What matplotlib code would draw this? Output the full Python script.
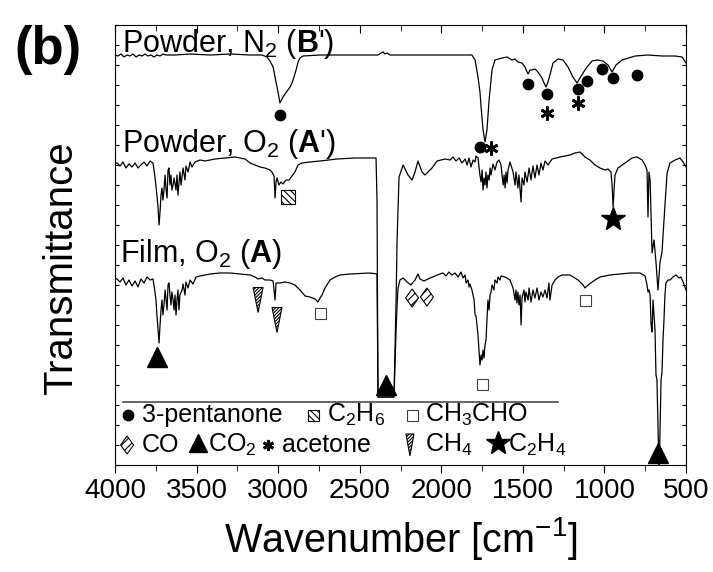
import numpy as np
import matplotlib
matplotlib.use("Agg")
import matplotlib.pyplot as plt
from matplotlib.patches import Rectangle, Polygon
from matplotlib.ticker import MultipleLocator

plt.rcParams['font.family'] = ['Liberation Sans', 'DejaVu Sans']
plt.rcParams['mathtext.fontset'] = 'custom'
plt.rcParams['mathtext.rm'] = 'Liberation Sans'
plt.rcParams['mathtext.bf'] = 'Liberation Sans:bold'
plt.rcParams['mathtext.it'] = 'Liberation Sans:italic'
plt.rcParams['hatch.linewidth'] = 0.8

# spectra (wavenumber, transmittance a.u.)
bprime_wn = [4000, 3982, 3963, 3945, 3926, 3908, 3890, 3871, 3853, 3834, 3816, 3798, 3779, 3761,
             3743, 3724, 3706, 3687, 3632, 3540, 3418, 3295, 3172, 3099, 3068, 3050, 3031, 3019,
             3007, 2995, 2989, 2983, 2970, 2958, 2940, 2927, 2915, 2903, 2890, 2878, 2866, 2848,
             2743, 2560, 2388, 2369, 2357, 2345, 2333, 2314, 2130, 1946, 1812, 1793, 1775, 1763,
             1756, 1744, 1732, 1720, 1707, 1689, 1671, 1628, 1597, 1567, 1548, 1530, 1505, 1487,
             1474, 1468, 1456, 1444, 1426, 1413, 1395, 1383, 1370, 1358, 1346, 1334, 1315, 1284,
             1254, 1223, 1193, 1168, 1150, 1131, 1107, 1076, 1045, 1009, 978, 953, 929, 892, 812,
             733, 647, 567, 524, 500]
bprime_t = [410, 409, 411, 408, 410, 409, 411, 408, 410, 409, 411, 409, 410, 408,
            410, 409, 411, 410, 410, 411, 410, 411, 410, 410, 408, 404, 398, 388,
            378, 368, 362, 364, 368, 371, 375, 378, 382, 388, 395, 403, 407, 409,
            410, 410, 410, 412, 413, 411, 412, 410, 410, 410, 410, 405, 388, 373,
            358, 335, 323, 335, 365, 395, 405, 407, 408, 405, 406, 403, 402, 398,
            393, 391, 395, 395, 396, 394, 390, 387, 382, 378, 383, 390, 402, 406,
            405, 398, 388, 382, 387, 392, 398, 404, 405, 404, 400, 393, 400, 405, 409,
            410, 409, 409, 408, 402]

aprime_wn = [4000, 3988, 3969, 3951, 3933, 3914, 3896, 3877, 3859, 3841, 3822, 3804, 3785, 3767,
             3755, 3743, 3736, 3730, 3724, 3718, 3712, 3706, 3700, 3693, 3687, 3681, 3675, 3669,
             3663, 3657, 3651, 3644, 3638, 3626, 3620, 3614, 3602, 3595, 3583, 3571, 3565, 3552,
             3540, 3528, 3510, 3479, 3448, 3387, 3326, 3264, 3203, 3172, 3142, 3111, 3081, 3050,
             3038, 3025, 3019, 3013, 3007, 2995, 2983, 2970, 2952, 2933, 2915, 2897, 2878, 2854,
             2805, 2743, 2639, 2529, 2400, 2394, 2388, 2290, 2277, 2271, 2259, 2234, 2204, 2179,
             2161, 2143, 2118, 2100, 2057, 2026, 1977, 1946, 1928, 1910, 1891, 1873, 1854, 1842,
             1830, 1818, 1805, 1793, 1787, 1775, 1763, 1756, 1750, 1744, 1738, 1732, 1726, 1720,
             1714, 1707, 1701, 1695, 1683, 1671, 1658, 1646, 1634, 1621, 1615, 1609, 1603, 1597,
             1591, 1579, 1560, 1548, 1542, 1530, 1524, 1511, 1505, 1493, 1487, 1474, 1462, 1450,
             1438, 1426, 1413, 1401, 1389, 1377, 1364, 1346, 1321, 1272, 1211, 1180, 1150, 1119,
             1089, 1058, 1027, 997, 978, 960, 953, 947, 941, 935, 917, 874, 831, 800, 769, 751,
             739, 733, 727, 720, 708, 696, 684, 672, 659, 647, 635, 629, 616, 598, 567, 537, 518,
             500]
aprime_t = [302, 302, 299, 303, 297, 301, 298, 302, 297, 300, 303, 299, 304, 302,
            288, 270, 257, 240, 253, 270, 277, 265, 275, 290, 275, 267, 295, 297,
            280, 290, 275, 280, 287, 275, 290, 270, 293, 280, 297, 285, 299, 293,
            303, 298, 303, 305, 304, 306, 307, 308, 306, 302, 300, 298, 297, 295,
            293, 289, 267, 283, 287, 280, 283, 281, 285, 285, 289, 293, 300, 302,
            303, 304, 306, 307, 307, 265, 68, 68, 165, 225, 288, 300, 290, 285,
            293, 304, 293, 290, 297, 304, 306, 305, 308, 304, 307, 302, 306, 300,
            307, 298, 305, 303, 309, 307, 290, 283, 295, 275, 287, 280, 293, 277,
            290, 285, 297, 290, 301, 295, 303, 305, 300, 280, 290, 277, 293, 282,
            295, 303, 293, 280, 293, 277, 290, 263, 287, 280, 293, 283, 297, 285,
            299, 287, 300, 290, 302, 295, 304, 300, 306, 308, 310, 312, 313, 308,
            305, 300, 297, 295, 296, 293, 280, 258, 275, 290, 297, 302, 307, 308, 305, 300,
            295, 248, 293, 285, 212, 225, 203, 175, 203, 213, 245, 260, 292, 302, 305, 307, 303,
            298]

film_wn = [4000, 3988, 3969, 3951, 3933, 3914, 3896, 3877, 3859, 3841, 3822, 3804, 3785, 3767,
           3755, 3749, 3743, 3736, 3730, 3724, 3718, 3712, 3706, 3700, 3693, 3687, 3681, 3675,
           3669, 3663, 3657, 3651, 3644, 3638, 3632, 3626, 3620, 3614, 3608, 3602, 3589, 3583,
           3571, 3565, 3552, 3540, 3522, 3503, 3479, 3448, 3418, 3356, 3295, 3234, 3172, 3142,
           3123, 3099, 3081, 3050, 3031, 3019, 3013, 2989, 2958, 2927, 2897, 2866, 2835, 2805,
           2774, 2756, 2743, 2731, 2713, 2682, 2651, 2621, 2560, 2437, 2394, 2388, 2290, 2277,
           2271, 2265, 2253, 2234, 2210, 2186, 2161, 2143, 2130, 2106, 2069, 2038, 2008, 1989,
           1971, 1953, 1934, 1916, 1897, 1879, 1867, 1854, 1848, 1836, 1830, 1824, 1812, 1799,
           1793, 1787, 1775, 1769, 1763, 1756, 1750, 1744, 1738, 1732, 1726, 1720, 1714, 1707,
           1701, 1695, 1689, 1677, 1671, 1658, 1652, 1640, 1634, 1609, 1579, 1560, 1548, 1542,
           1536, 1530, 1524, 1517, 1511, 1505, 1493, 1487, 1481, 1468, 1462, 1450, 1438, 1426,
           1413, 1401, 1389, 1377, 1364, 1352, 1340, 1334, 1321, 1303, 1284, 1260, 1211, 1162,
           1131, 1119, 1101, 1058, 1027, 966, 904, 843, 782, 751, 739, 733, 727, 720, 714, 708,
           702, 690, 684, 678, 665, 653, 647, 641, 635, 629, 623, 610, 598, 580, 561, 543, 531,
           518, 500]
film_t = [187, 186, 183, 187, 180, 185, 179, 184, 178, 186, 182, 188, 185, 186,
          173, 165, 150, 135, 122, 140, 155, 165, 150, 160, 175, 165, 155, 180,
          182, 170, 160, 173, 165, 155, 170, 150, 165, 175, 155, 170, 175, 181,
          170, 183, 177, 185, 181, 188, 189, 190, 191, 192, 192, 191, 190, 188,
          186, 187, 185, 185, 184, 165, 182, 182, 183, 182, 180, 175, 169, 168,
          166, 163, 167, 170, 177, 185, 188, 190, 191, 192, 191, 68, 68, 135,
          160, 177, 185, 187, 183, 180, 185, 191, 186, 184, 187, 189, 191, 192,
          189, 193, 190, 192, 188, 193, 187, 190, 182, 185, 178, 181, 175, 165,
          150, 149, 130, 115, 100, 110, 105, 115, 107, 120, 125, 145, 165, 155,
          170, 173, 180, 175, 185, 182, 188, 185, 189, 188, 185, 177, 165, 175,
          162, 173, 160, 170, 140, 167, 175, 163, 173, 165, 177, 163, 175, 167,
          177, 165, 173, 168, 175, 167, 182, 165, 180, 185, 188, 190, 190, 185,
          180, 177, 180, 185, 188, 190, 191, 192, 192, 189, 180, 173, 175, 170, 140, 133,
          165, 135, 90, 85, -10, 85, 93, 125, 145, 170, 182, 185, 185, 188, 190, 187, 188,
          183, 175]

# band assignments (wavenumber, height)
pentanone_wn = [2989, 1763, 1468, 1352, 1162, 1107, 1015, 947, 800]
pentanone_y = [350, 318, 381, 371, 376, 384, 396, 387, 390]
acetone_wn = [1695, 1352, 1162]
acetone_y = [317, 352, 362]
co2_wn = [3743, 2339, 672]
co2_y = [108, 80, 12]
ch4_wn = [3123, 3007]
ch4_y = [165, 145]
ch3cho_wn = [2743, 1750, 1113]
ch3cho_y = [152, 81, 165]
co_wn = [2179, 2088]
co_y = [167, 168]
c2h6_wn = [2940]
c2h6_y = [268]
c2h4_wn = [947]
c2h4_y = [246]

PX = 3500 / 571.0  # wavenumber per pixel

fig = plt.figure(figsize=(7.13, 5.72), dpi=100)
ax = fig.add_axes([115 / 713, 107 / 572, 571 / 713, 440 / 572])

for wn, t in [(bprime_wn, bprime_t), (aprime_wn, aprime_t), (film_wn, film_t)]:
    ax.plot(wn, t, color='black', lw=0.9)


def hatch_rect(x, y, w, h, hatch, ec='black'):
    ax.add_patch(Rectangle((x - w * PX / 2, y - h / 2), w * PX, h, fc='white', ec=ec,
                           hatch=hatch, lw=0.8, zorder=4))


def hatch_poly(x, y, pts, hatch):
    ax.add_patch(Polygon([(x + dx * PX, y + dy) for dx, dy in pts], closed=True, fc='white',
                         ec='black', hatch=hatch, lw=0.8, zorder=4))


def down_tri(w, h):
    return [(-w / 2, h / 2), (w / 2, h / 2), (0, -h / 2)]


def diamond(w, h):
    return [(0, h / 2), (w / 2, 0), (0, -h / 2), (-w / 2, 0)]


ax.plot(pentanone_wn, pentanone_y, 'o', color='black', ms=7.5, zorder=5)
ax.plot(acetone_wn, acetone_y, marker=(6, 2, 0), ls='none', color='black', ms=10, mew=2, zorder=5)
ax.plot(co2_wn, co2_y, '^', color='black', ms=14, zorder=5)
ax.plot(c2h4_wn, c2h4_y, '*', color='black', ms=18, zorder=5)
for x, y in zip(ch3cho_wn, ch3cho_y):
    hatch_rect(x, y, 11, 11, None, ec='0.25')
for x, y in zip(c2h6_wn, c2h6_y):
    hatch_rect(x, y, 14, 14, '\\\\\\\\\\')
for x, y in zip(ch4_wn, ch4_y):
    hatch_poly(x, y, down_tri(10, 25), '//////////')
for x, y in zip(co_wn, co_y):
    hatch_poly(x, y, diamond(13, 18), '////')

# curve labels
ax.text(3957, 413, "Powder, N$_2$ ($\\mathbf{B}$')", fontsize=22, va='baseline')
ax.text(3957, 313, "Powder, O$_2$ ($\\mathbf{A}$')", fontsize=22, va='baseline')
ax.text(3969, 203, "Film, O$_2$ ($\\mathbf{A}$)", fontsize=22, va='baseline')

# legend
ax.axhline(63, xmin=8 / 571, xmax=443 / 571, color='0.3', lw=1.2)
fs = 18
ax.plot([3920], [50], 'o', color='black', ms=7.5)
ax.text(3834, 50, "3-pentanone", fontsize=fs, va='center')
hatch_rect(2786, 50, 11, 11, '\\\\\\\\\\')
ax.text(2700, 50, "C$_2$H$_6$", fontsize=fs, va='center')
hatch_rect(2179, 50, 11, 11, None, ec='0.25')
ax.text(2100, 50, "CH$_3$CHO", fontsize=fs, va='center')
hatch_poly(3926, 20, diamond(13, 18), '////')
ax.text(3834, 20, "CO", fontsize=fs, va='center')
ax.plot([3491], [22], '^', color='black', ms=13)
ax.text(3430, 20, "CO$_2$", fontsize=fs, va='center')
ax.plot([3062], [20], marker=(6, 2, 0), ls='none', color='black', ms=8, mew=2)
ax.text(2976, 20, "acetone", fontsize=fs, va='center')
hatch_poly(2192, 20, down_tri(8, 22), '//////////')
ax.text(2100, 20, "CH$_4$", fontsize=fs, va='center')
ax.plot([1652], [22], '*', color='black', ms=18)
ax.text(1591, 20, "C$_2$H$_4$", fontsize=fs, va='center')

ax.set_xlim(4000, 500)
ax.set_ylim(0, 440)
ax.xaxis.set_major_locator(MultipleLocator(500))
ax.xaxis.set_minor_locator(MultipleLocator(250))
ax.yaxis.set_major_locator(MultipleLocator(20))
ax.tick_params(axis='x', which='major', labelsize=20, direction='out', length=6, top=True)
ax.tick_params(axis='x', which='minor', direction='out', length=4, top=True)
ax.tick_params(axis='y', which='major', direction='in', length=3, right=True, labelleft=False)
for t in ax.xaxis.get_ticklines(minor=False)[1::2] + ax.xaxis.get_ticklines(minor=True)[1::2]:
    t.set_marker(3)

fig.text(401 / 713, 1 - 538 / 572, "Wavenumber [cm$^{-1}$]", fontsize=28.5, ha='center', va='center')
fig.text(61 / 713, 1 - 268 / 572, "Transmittance", fontsize=29, rotation=90, ha='center', va='center')
fig.text(14 / 713, 1 - 64 / 572, "(b)", fontsize=38, fontweight='bold', va='baseline')

fig.savefig("out.png", dpi=100)
